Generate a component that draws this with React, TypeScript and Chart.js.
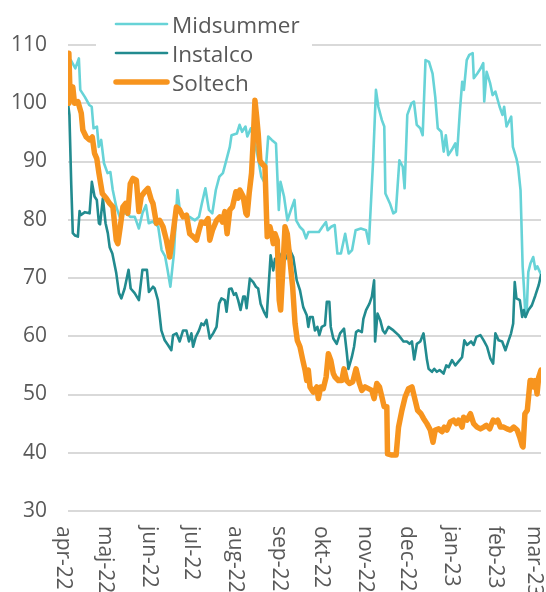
import React, { useEffect, useRef } from "react";
import { Chart, registerables } from "chart.js";

Chart.register(...registerables);

// X axis: days since 1 Apr 2022, ticks at the first day of each month
const monthLabels = ["apr-22", "maj-22", "jun-22", "jul-22", "aug-22", "sep-22", "okt-22", "nov-22", "dec-22", "jan-23", "feb-23", "mar-23"];
const monthStartDays = [0, 30, 61, 91, 122, 153, 183, 214, 244, 275, 306, 334];
const lastDay = 335;

// Y axis
const yMin = 30;
const yMax = 110;
const yStep = 10;

const seriesNames = ["Midsummer", "Instalco", "Soltech"];

const midsummerDays = [0, 2, 5.2, 7.7, 8.7, 11.9, 15.1, 16.8, 18.1, 20.5, 21.8, 23.5, 25.5, 28, 30, 31.7, 34.2, 36.6, 39.1, 41.6, 44.1, 47.3, 50.2, 52.7, 55.2, 57.2, 60.1, 63.9, 66.3, 68.8, 70.5, 72.5, 75, 77.5, 79.5, 82.4, 86.1, 89.9, 92.8, 94.8, 97.3, 99.8, 102.2, 104.7, 107.2, 109.7, 112.1, 114.6, 115.8, 119.6, 121.5, 123.3, 125.7, 127, 129.5, 131.9, 134.4, 136.9, 139.4, 141.8, 144.3, 147.3, 149.3, 150.5, 153, 155.4, 157.9, 160.4, 161.6, 164.1, 166.6, 168.6, 170.3, 174, 177.7, 180.2, 182.7, 183.9, 186.4, 188.9, 190.8, 193.3, 196.3, 198.8, 201.2, 203.7, 207.4, 211.1, 213.1, 216.1, 218.1, 219.8, 222.3, 224, 224.8, 228, 230.4, 232.2, 234.7, 237.1, 238.4, 240.3, 243.3, 245, 247, 249.5, 251.2, 253.2, 255.7, 258.2, 260.1, 261.9, 264.4, 266.1, 267.6, 269.3, 271.8, 274.3, 275.5, 277.5, 279.2, 280.4, 282.4, 284.2, 286.6, 287.4, 289.9, 292.3, 294.1, 294.8, 296.5, 299, 300.7, 302.7, 305.7, 307.7, 308.9, 310.6, 313.9, 315.1, 317.6, 318.8, 320.5, 322, 323, 324, 325, 326, 327.5, 329.5, 331, 332.4, 335];
const midsummerValues = [107, 107.4, 106, 107.7, 102.3, 101.1, 99.7, 99.4, 95.7, 96, 92.5, 93.7, 89.7, 88, 88.2, 85.1, 82.2, 80.5, 81.1, 81.1, 80.5, 80.5, 78.5, 81.1, 82.5, 79.4, 79.7, 78.8, 74.8, 73.7, 71.4, 68.5, 74.2, 85.1, 81.1, 80.5, 80.5, 79.9, 80.5, 82.8, 85.4, 81.7, 81.1, 85.1, 87.4, 88, 90.2, 92.5, 94.5, 94.8, 96.3, 95.1, 96, 94.3, 95.7, 93.7, 90.8, 87.4, 86.3, 94.3, 93.7, 93.1, 81.7, 86.5, 84, 79.9, 81.7, 83.4, 79.9, 78.8, 78.2, 76.8, 77.9, 77.9, 77.9, 78.8, 79.6, 78.2, 78.8, 79.1, 74.2, 74.2, 77.6, 74.2, 74.8, 78.2, 78.5, 78.2, 75.9, 90.2, 102.3, 99.4, 97.1, 96, 84.5, 82.8, 81.1, 81.4, 90.2, 89.1, 85.4, 98, 100, 100.3, 96.3, 95.7, 94.5, 107.4, 107.1, 105.1, 101.1, 95.7, 95.1, 91.7, 94.5, 91.1, 92, 93.1, 91.1, 98.5, 103.7, 102.3, 107.4, 108.3, 108.6, 104.3, 105.1, 106, 106.9, 100.3, 105.4, 103.4, 101.4, 102, 99.4, 98, 99.4, 96, 97.7, 92.5, 90.5, 89.1, 85.1, 72, 68, 63.3, 65, 71, 72.5, 73.6, 71.5, 72, 70.6];

const instalcoDays = [0, 1, 2.3, 3.4, 5, 7, 8.2, 9, 12, 15.3, 16.9, 18.8, 20.4, 21.9, 22.7, 24.7, 26.6, 28.2, 29.5, 31.4, 34.2, 36.1, 37.8, 40.1, 42.9, 44.4, 47.2, 50.2, 52.7, 55.9, 57.3, 60.2, 61.4, 63.7, 66.1, 68.5, 70.8, 73.2, 74.4, 76.8, 79.1, 81.5, 83.9, 85.7, 87.4, 88.6, 90.5, 92.8, 94.5, 96.2, 98.1, 100.4, 102.8, 105.2, 107, 108.7, 111.1, 112.3, 114.1, 115.8, 117.5, 118.9, 120.5, 122.2, 124.1, 125.3, 126.5, 128.8, 131.2, 133.1, 134.7, 136.4, 138.8, 140.7, 143.5, 145.4, 146.6, 148.9, 151.3, 153.7, 157.2, 159.5, 162, 164.3, 166.6, 169.1, 170.2, 171.4, 173.3, 174.9, 176.6, 178, 179.7, 182, 183.3, 185.1, 186.1, 187.9, 190.3, 192.7, 195.5, 197.4, 198.6, 201, 202.6, 204, 205.7, 208.1, 209.2, 211.1, 213.5, 215.2, 216.8, 217.5, 219.2, 221.1, 223, 224.6, 227, 230.5, 234.1, 237.6, 240, 241.9, 243.6, 245.2, 247.1, 249.5, 251.8, 254.2, 255.4, 257.8, 259.4, 261.3, 263.2, 266, 267.9, 269.6, 272, 274.3, 277.4, 279.1, 280.7, 282.6, 285.5, 287.3, 289.2, 292.1, 294.4, 296.8, 299.1, 301.1, 302.7, 305, 307.5, 309.8, 312.1, 313.8, 315.3, 316.4, 317.6, 320, 321.7, 322.8, 324, 326.1, 328.5, 331, 333.4, 335];
const instalcoValues = [100, 98, 86, 77.7, 77.3, 77.1, 81.5, 80.8, 81.3, 81.1, 86.5, 84, 83.4, 79.4, 79.2, 83.7, 79.4, 77.7, 75.3, 74.2, 70.8, 67.4, 66.5, 68.2, 71.4, 68.2, 67.4, 66.2, 71.4, 71.4, 67.6, 68.5, 68.2, 66.2, 61, 59.3, 58.5, 57.6, 60.2, 60.5, 59.1, 61, 61, 59.1, 60.5, 58.2, 59.9, 61, 62.2, 61.9, 62.8, 59.6, 60.5, 61.6, 65.6, 66.5, 66.2, 64.2, 68.1, 68.2, 67.1, 67.4, 66.2, 64.5, 66.8, 66.8, 64.8, 69.9, 69.3, 68.5, 68.2, 65.6, 64.2, 63.3, 73.9, 71.3, 73.3, 72.8, 74.2, 73.1, 74.8, 73.6, 69.6, 67.9, 65, 63.6, 61.6, 63.3, 63.3, 61, 61.6, 60.2, 61.6, 61.9, 65.9, 65.9, 61.6, 59.6, 58.7, 60.5, 61.3, 57.3, 54.4, 56.4, 58.2, 60.7, 61, 60.7, 63, 64.5, 65.6, 66.8, 69.6, 59.1, 63.9, 62.8, 61, 60.5, 61.6, 61, 60.2, 59.1, 59.1, 58.7, 59.1, 56, 58.7, 59.1, 60.5, 56, 54.4, 53.9, 54.4, 53.9, 54.2, 53.6, 55, 54.7, 55.9, 55, 55.9, 56.4, 59.3, 58.5, 59.1, 58.5, 59.9, 60.2, 59.3, 58.2, 56.2, 55.3, 60.5, 59.3, 59.1, 57.6, 59.3, 60.5, 62.2, 69.3, 66.5, 66.2, 63.3, 64.5, 63.3, 64.5, 65.3, 67, 68.8, 70.5];

const soltechDays = [0, 0.6, 1.5, 2.3, 3.4, 4.6, 7, 9.4, 10.5, 12.9, 15.3, 17.2, 18.8, 20.4, 21.9, 24.3, 27.1, 29.5, 31.8, 34.2, 35.3, 37, 38.9, 40.8, 42.4, 44.1, 46, 48.4, 50.2, 51.9, 54.3, 56.6, 59, 60.2, 62.6, 64.9, 67.3, 69.7, 72, 74.4, 76.8, 79.1, 81.5, 83.9, 86.2, 88.6, 91, 92.8, 94.5, 96.9, 99.2, 100.4, 102.3, 105.2, 107.5, 109.4, 111.1, 112.7, 114.6, 116.5, 118.9, 120.5, 121.7, 124.1, 126, 126.9, 128.3, 130, 131.2, 132.4, 133.6, 134.7, 135.9, 137.1, 139.5, 140.7, 141.1, 143, 144.2, 145.4, 146.6, 148.2, 149.6, 150.6, 152, 153.7, 155.3, 157.2, 159.1, 160.8, 162.4, 164.3, 166.2, 167.9, 169.1, 170.2, 171.4, 173.7, 176.2, 177.3, 179, 180.8, 182.8, 184.4, 186.1, 187.9, 189.1, 191.5, 193.9, 195.5, 197.4, 199.3, 201.7, 204, 206.4, 208.1, 210.4, 212.8, 215.2, 216.8, 218.7, 220.6, 222.3, 223.9, 225.8, 226.3, 229.4, 232.4, 234.1, 236.5, 238.8, 241.2, 243.6, 245.9, 247.6, 250, 251.8, 254.2, 256.6, 258.5, 260.1, 262.5, 264.9, 266.5, 268.4, 270.8, 273.1, 275, 276.6, 279.1, 280.2, 282.6, 285, 287.3, 289.7, 292.1, 294.4, 296.3, 298.7, 301.1, 302.7, 304.3, 306.3, 308.6, 311, 313.4, 315.7, 318.1, 319.9, 321.7, 322.3, 323.6, 325.3, 327.3, 328.5, 329.7, 331, 332.2, 333.4, 335];
const soltechValues = [100, 108.6, 101, 100.8, 102.8, 100, 100.3, 98.3, 95.4, 94.2, 93.7, 94.2, 91.4, 90.5, 88, 84.5, 83.7, 82.8, 82.2, 76.5, 75.9, 78.8, 82.2, 82.8, 81.1, 86.2, 87.1, 86.8, 81.4, 84, 84.8, 85.4, 83.4, 82.8, 79.4, 79.9, 78.8, 76.5, 73.6, 77.6, 82.2, 81.7, 80.5, 80.8, 77.6, 77.1, 76.5, 78.2, 79.6, 79.4, 80.2, 76.5, 78.2, 79.9, 80.5, 79.6, 81.4, 77.6, 81.7, 82.2, 84.8, 83.7, 85.1, 84, 81.1, 80.8, 84.5, 88, 93.7, 100.5, 97.7, 94.8, 90.2, 89.7, 89.1, 79.9, 77.1, 78.8, 77.6, 75.9, 77.6, 76.5, 66.2, 64.5, 70.8, 78.8, 77.6, 73.1, 68.5, 62.2, 59.3, 58.2, 56, 54.2, 52.4, 54.2, 51.3, 50.4, 51.3, 49.3, 51.3, 51, 53, 57, 55.9, 53.6, 53, 52.4, 52.4, 54.4, 52.4, 51.9, 52.2, 54.4, 51.9, 50.7, 51.3, 51, 50.7, 49.3, 51.9, 51.3, 49.6, 47.9, 47.9, 39.8, 39.6, 39.6, 44.4, 47.3, 49.6, 51, 51.3, 49, 47.3, 46.7, 45.9, 45, 43.9, 41.8, 43.9, 44.1, 43.6, 44.4, 43.9, 45.3, 45.6, 45, 45.6, 44.4, 46.1, 45.6, 46.7, 45, 44.4, 44.1, 44.4, 44.7, 44.1, 45.6, 45.3, 45.6, 44.4, 44.4, 44.1, 43.9, 44.4, 43.9, 42.7, 41.2, 41, 46.7, 47.3, 52.4, 52.4, 51.3, 52.4, 50.1, 53, 54.2];

const COLORS = ["#67d3d7", "#228b8f", "#f7941e"];
const WIDTHS = [2.6, 2.6, 5.5];
const TEXT_COLOR = "#595959";
const GRID_COLOR = "#d9d9d9";
const FONT_FAMILY = '"Open Sans", "Noto Sans", sans-serif';
const FONT_SIZE = 21;
const LEGEND_FONT_SIZE = 22.5;

const toPoints = (days: number[], values: number[]) => days.map((d, i) => ({ x: d, y: values[i] }));

const xLabelPlugin = {
  id: "rotatedMonthLabels",
  afterDraw(chart: any) {
    const { ctx, chartArea } = chart;
    const x = chart.scales.x;
    ctx.save();
    ctx.font = `${FONT_SIZE}px ${FONT_FAMILY}`;
    ctx.fillStyle = TEXT_COLOR;
    ctx.textAlign = "left";
    ctx.textBaseline = "middle";
    monthStartDays.forEach((d, i) => {
      const px = x.getPixelForValue(d) - 5.5;
      ctx.save();
      ctx.translate(px, chartArea.bottom + 15);
      ctx.rotate(Math.PI / 2);
      ctx.fillText(monthLabels[i], 0, 0);
      ctx.restore();
    });
    ctx.restore();
  },
};

const legendPlugin = {
  id: "insideLegend",
  afterDatasetsDraw(chart: any) {
    const { ctx } = chart;
    ctx.save();
    ctx.fillStyle = "#ffffff";
    ctx.fillRect(96, 0, 216, 97);
    ctx.font = `${LEGEND_FONT_SIZE}px ${FONT_FAMILY}`;
    ctx.textAlign = "left";
    ctx.textBaseline = "alphabetic";
    chart.data.datasets.forEach((ds: any, i: number) => {
      const y = 24 + i * 29;
      ctx.strokeStyle = ds.borderColor;
      ctx.lineWidth = ds.borderWidth;
      ctx.lineCap = "round";
      ctx.beginPath();
      ctx.moveTo(116, y);
      ctx.lineTo(167, y);
      ctx.stroke();
      ctx.fillStyle = TEXT_COLOR;
      ctx.fillText(ds.label, 172, y + 8.5);
    });
    ctx.restore();
  },
};

export default function App() {
  const canvasRef = useRef<HTMLCanvasElement | null>(null);

  useEffect(() => {
    const canvas = canvasRef.current;
    if (!canvas) return;
    const seriesDays = [midsummerDays, instalcoDays, soltechDays];
    const seriesValues = [midsummerValues, instalcoValues, soltechValues];
    const chart = new Chart(canvas, {
      type: "line",
      data: {
        datasets: seriesNames.map((name, i) => ({
          label: name,
          data: toPoints(seriesDays[i], seriesValues[i]),
          borderColor: COLORS[i],
          backgroundColor: COLORS[i],
          borderWidth: WIDTHS[i],
          pointRadius: 0,
          tension: 0,
          borderJoinStyle: "round",
          borderCapStyle: "round",
          fill: false,
          order: 3 - i,
        })),
      },
      options: {
        animation: false,
        responsive: true,
        maintainAspectRatio: false,
        layout: { padding: { top: 45, right: 5, left: 0, bottom: 0 } },
        plugins: {
          legend: { display: false },
          tooltip: { enabled: false },
        },
        scales: {
          x: {
            type: "linear",
            min: 0,
            max: lastDay,
            grid: { display: false },
            border: { display: false },
            ticks: { display: false },
            afterFit: (s: any) => {
              s.height = 81;
            },
          },
          y: {
            min: yMin,
            max: yMax,
            border: { display: false },
            grid: { color: GRID_COLOR, lineWidth: 2, drawTicks: false },
            ticks: {
              stepSize: yStep,
              padding: 21,
              color: TEXT_COLOR,
              font: { family: FONT_FAMILY, size: FONT_SIZE },
            },
            afterFit: (s: any) => {
              s.width = 68;
            },
          },
        },
      },
      plugins: [legendPlugin, xLabelPlugin],
    } as any);
    return () => chart.destroy();
  }, []);

  return (
    <div style={{ position: "fixed", left: 0, top: 0, width: 546, height: 592, background: "#fff" }}>
      <canvas ref={canvasRef} />
    </div>
  );
}
